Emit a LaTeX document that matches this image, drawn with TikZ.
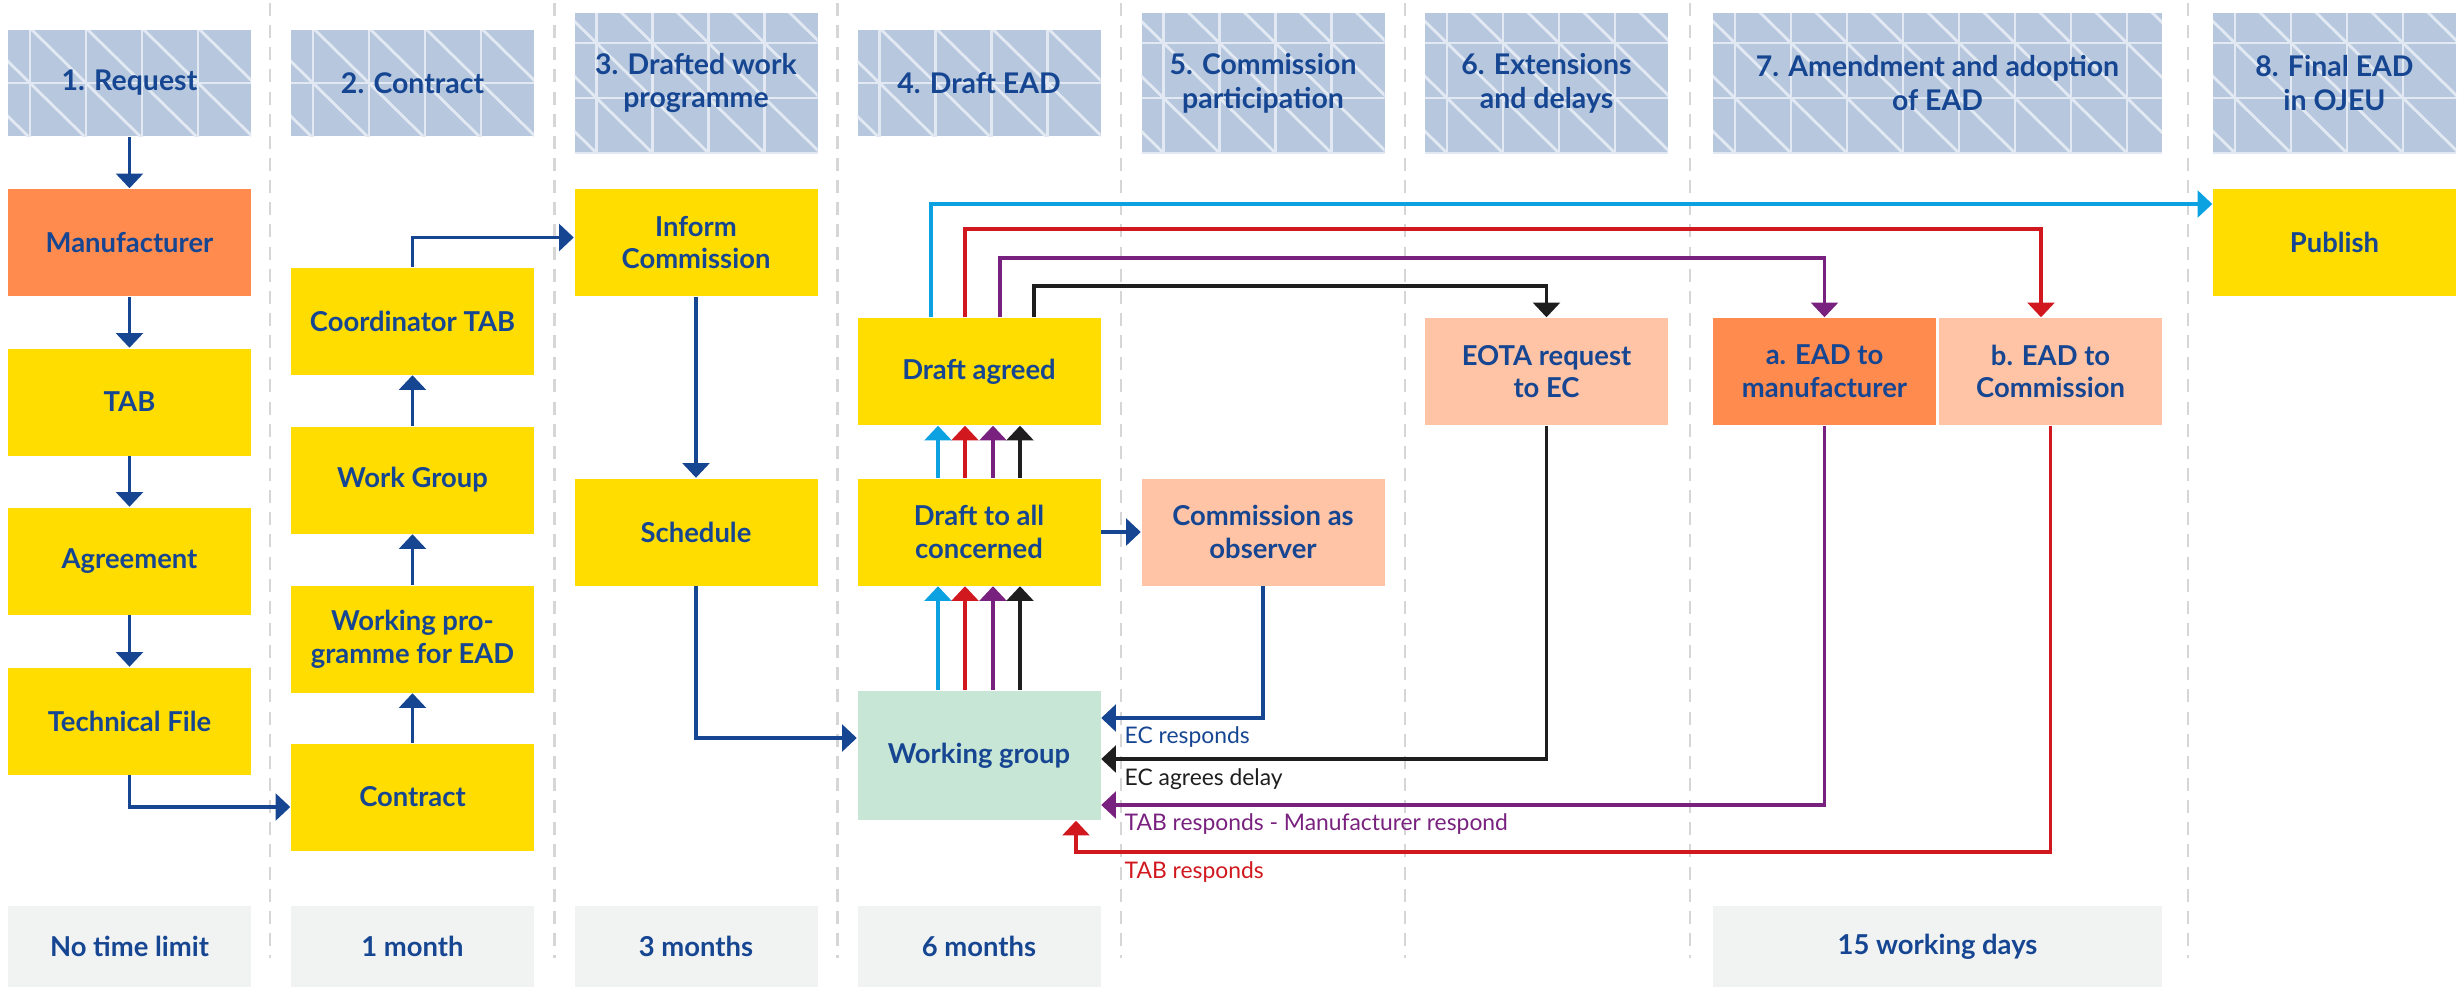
\documentclass[tikz,border=0pt]{standalone}
\usepackage{fontspec}
\setmainfont{Lato}
\usetikzlibrary{positioning,arrows.meta}

\definecolor{eublue}{RGB}{22,70,146}
\definecolor{boxyellow}{RGB}{255,221,0}
\definecolor{boxorange}{RGB}{255,139,79}
\definecolor{boxpeach}{RGB}{255,196,165}
\definecolor{boxgreen}{RGB}{200,230,213}
\definecolor{hdrfill}{RGB}{183,200,222}
\definecolor{hdrline}{RGB}{226,233,242}
\definecolor{timegray}{RGB}{241,243,243}
\definecolor{sepgray}{RGB}{214,214,214}
\definecolor{lcyan}{RGB}{12,162,226}
\definecolor{lred}{RGB}{208,24,30}
\definecolor{lpurple}{RGB}{121,33,127}
\definecolor{lblack}{RGB}{30,30,30}

\newcommand\hdrgrid[1]{%
  \foreach \k in {0,...,8}
    \draw[hdrline,line width=0.8pt] ([xshift=0.22cm+\k*0.56cm,yshift=0.1cm]path picture bounding box.north west) -- ++(0,-1.7);
  \foreach \k in {0,...,3}
    \draw[hdrline,line width=0.8pt] ([xshift=-0.1cm,yshift=0.55cm-#1cm-\k*0.55cm]path picture bounding box.north west) -- ++(4.8,0);
  \foreach \k in {-4,...,9}
    \draw[hdrline,line width=0.8pt] ([xshift=\k*0.56cm-1.46cm,yshift=1.65cm-#1cm]path picture bounding box.north west) -- ++(4.48,-4.4);
}

\begin{document}
\begin{tikzpicture}[box/.style={rectangle,fill=boxyellow,text=eublue,font=\bfseries\fontsize{7.8}{9.3}\selectfont,align=center,inner sep=0pt,minimum width=2.43cm,minimum height=1.07cm},hdr/.style={box,fill=hdrfill,font=\bfseries\fontsize{8.1}{9.6}\selectfont,minimum height=1.06cm,path picture={\hdrgrid{0.53}}},hdrtall/.style={hdr,minimum height=1.40cm,path picture={\hdrgrid{0.30}}},timebox/.style={box,fill=timegray,minimum height=0.81cm},flow/.style={draw=#1,line width=1.1pt,-{Triangle[width=7.6pt,length=4.2pt]}},flow/.default=eublue,lbl/.style={font=\fontsize{6.5}{7.5}\selectfont,anchor=base west,inner sep=0pt},sep/.style={draw=sepgray,line width=0.6pt,dash pattern=on 3.7pt off 2.6pt}]
  \useasboundingbox (0,0) rectangle (24.59,-9.87);

  \foreach \x in {2.70,5.545,8.375,11.21,14.05,16.90,21.88}
    \draw[sep] (\x,-0.03) -- (\x,-9.58);

  \node[hdr] (h1) at (1.295,-0.83) {1. Request};
  \node[hdr] (h2) at (4.125,-0.83) {2. Contract};
  \node[hdrtall] (h3) at (6.96,-0.83) {3. Drafted work\\programme};
  \node[hdr] (h4) at (9.79,-0.83) {4. Draft EAD};
  \node[hdrtall] (h5) at (12.63,-0.83) {5. Commission\\participation};
  \node[hdrtall] (h6) at (15.465,-0.83) {6. Extensions\\and delays};
  \node[hdrtall,minimum width=4.49cm] (h7) at (19.375,-0.83) {7. Amendment and adoption\\of EAD};
  \node[hdrtall] (h8) at (23.345,-0.83) {8. Final EAD\\in OJEU};

  \node[box,fill=boxorange] (man) at (1.295,-2.425) {Manufacturer};
  \node[box] (tab) at (1.295,-4.02) {TAB};
  \node[box] (agr) at (1.295,-5.61) {Agreement};
  \node[box] (tf) at (1.295,-7.21) {Technical File};

  \node[box] (ctab) at (4.125,-3.21) {Coordinator TAB};
  \node[box] (wgp) at (4.125,-4.80) {Work Group};
  \node[box] (wp) at (4.125,-6.39) {Working pro-\\gramme for EAD};
  \node[box] (con) at (4.125,-7.97) {Contract};

  \node[box] (inf) at (6.96,-2.425) {Inform\\Commission};
  \node[box] (sch) at (6.96,-5.32) {Schedule};

  \node[box] (dag) at (9.79,-3.715) {Draft agreed};
  \node[box] (dall) at (9.79,-5.32) {Draft to all\\concerned};
  \node[box,fill=boxgreen,minimum height=1.29cm] (wgr) at (9.79,-7.555) {Working group};

  \node[box,fill=boxpeach] (cobs) at (12.63,-5.32) {Commission as\\observer};
  \node[box,fill=boxpeach] (eota) at (15.465,-3.715) {EOTA request\\to EC};
  \node[box,fill=boxorange,minimum width=2.23cm] (ea) at (18.245,-3.715) {a. EAD to\\manufacturer};
  \node[box,fill=boxpeach,minimum width=2.23cm] (eb) at (20.505,-3.715) {b. EAD to\\Commission};
  \node[box] (pub) at (23.345,-2.425) {Publish};

  \node[timebox] (t1) at (1.295,-9.465) {No time limit};
  \node[timebox] (t2) at (4.125,-9.465) {1 month};
  \node[timebox] (t3) at (6.96,-9.465) {3 months};
  \node[timebox] (t4) at (9.79,-9.465) {6 months};
  \node[timebox,minimum width=4.49cm] (t7) at (19.375,-9.465) {15 working days};

  \foreach \a/\b in {h1/man,man/tab,tab/agr,agr/tf,con/wp,wp/wgp,wgp/ctab,inf/sch,dall/cobs}
    \draw[flow] (\a) -- (\b);

  \draw[flow] (tf.south) |- ([yshift=-0.10cm]con.west);
  \draw[flow] (ctab.north) |- ([yshift=0.05cm]inf.west);
  \draw[flow] (sch.south) |- ([yshift=0.175cm]wgr.west);

  \foreach \dx/\c in {-0.41/lcyan,-0.14/lred,0.14/lpurple,0.41/lblack} {
    \draw[flow=\c] ([xshift=\dx cm]wgr.north) -- ([xshift=\dx cm]dall.south);
    \draw[flow=\c] ([xshift=\dx cm]dall.north) -- ([xshift=\dx cm]dag.south);
  }

  \draw[flow=lcyan] ([xshift=-0.48cm]dag.north) |- ([yshift=0.385cm]pub.west);
  \draw[flow=lred] ([xshift=-0.14cm]dag.north) -- ++(0,0.88) -| ([xshift=-0.095cm]eb.north);
  \draw[flow=lpurple] ([xshift=0.21cm]dag.north) -- ++(0,0.59) -| (ea.north);
  \draw[flow=lblack] ([xshift=0.55cm]dag.north) -- ++(0,0.31) -| (eota.north);

  \draw[flow] (cobs.south) |- ([yshift=0.375cm]wgr.east);
  \draw[flow=lblack] (eota.south) |- ([yshift=-0.035cm]wgr.east);
  \draw[flow=lpurple] (ea.south) |- ([yshift=-0.495cm]wgr.east);
  \draw[flow=lred] (eb.south) -- ++(0,-4.26) -| ([xshift=0.97cm]wgr.south);

  \node[lbl,text=eublue] (lresp) at (11.24,-7.43) {EC responds};
  \node[lbl,text=lblack] (ldelay) at (11.24,-7.85) {EC agrees delay};
  \node[lbl,text=lpurple] (ltabman) at (11.24,-8.30) {TAB responds - Manufacturer respond};
  \node[lbl,text=lred] (ltab) at (11.24,-8.78) {TAB responds};
\end{tikzpicture}
\end{document}
